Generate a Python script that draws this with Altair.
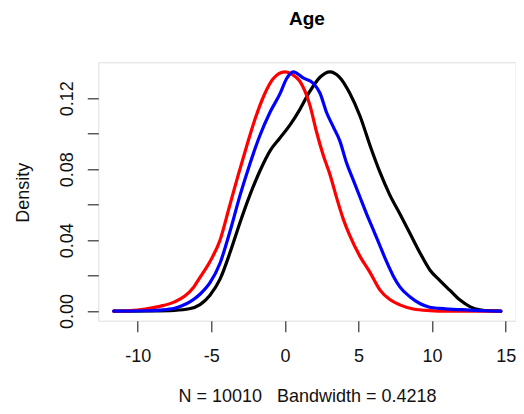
import altair as alt
import pandas as pd

# ---- data ----
black_x = [-11.63, -9.0, -7.5, -6.5, -5.77, -5.09, -4.41, -3.73, -3.05, -2.4, -1.7, -1.0, -0.35,
           0.35, 1.0, 1.7, 2.4, 3.05, 3.7, 4.4, 5.1, 5.8, 6.45, 7.1, 7.8, 8.5, 9.2, 9.85, 10.5,
           11.2, 11.9, 12.6, 13.25, 14.0, 14.67]
black_y = [0.0, 0.0001, 0.0004, 0.0013, 0.0037, 0.009, 0.018, 0.033, 0.05, 0.065, 0.079, 0.0905,
           0.0975, 0.1050, 0.1135, 0.1240, 0.1320, 0.1349, 0.1320, 0.1230, 0.1100, 0.0930,
           0.0785, 0.0660, 0.0550, 0.0438, 0.0325, 0.0232, 0.0175, 0.0118, 0.0062, 0.0024,
           0.0007, 0.0001, 0.0]

red_x = [-11.63, -10.5, -9.5, -8.5, -7.5, -6.8, -6.2, -5.77, -5.09, -4.41, -3.8, -3.2, -2.6,
         -2.0, -1.4, -0.8, 0.0, 0.5, 1.02, 1.7, 2.15, 2.6, 3.06, 3.51, 3.96, 4.41, 5.09, 5.77,
         6.45, 7.13, 7.81, 8.72, 9.84, 11.0, 14.67]
red_y = [0.0, 0.0003, 0.0012, 0.0027, 0.0052, 0.0085, 0.0135, 0.019, 0.028, 0.040, 0.058,
         0.076, 0.093, 0.109, 0.122, 0.131, 0.1349, 0.1335, 0.1295, 0.1160, 0.1010, 0.0880,
         0.0770, 0.0640, 0.0520, 0.0425, 0.0310, 0.0220, 0.0120, 0.0065, 0.0035, 0.0012,
         0.0003, 0.0, 0.0]

blue_x = [-11.63, -9.5, -8.5, -7.5, -7.0, -6.4, -5.77, -5.09, -4.41, -3.73, -3.06, -2.38, -1.7,
          -1.02, -0.34, 0.11, 0.57, 1.24, 1.92, 2.38, 2.83, 3.28, 3.73, 4.19, 4.64, 5.09, 5.54,
          6.0, 6.45, 6.9, 7.35, 7.81, 8.49, 9.17, 9.84, 10.52, 11.2, 12.56, 13.5, 14.67]
blue_y = [0.0, 0.0002, 0.0006, 0.0016, 0.0030, 0.0055, 0.0095, 0.016, 0.027, 0.045, 0.065,
          0.083, 0.099, 0.112, 0.1225, 0.1310, 0.1349, 0.1315, 0.1285, 0.1230, 0.1120, 0.1040,
          0.0960, 0.0835, 0.0740, 0.0645, 0.0550, 0.0460, 0.0370, 0.0280, 0.0200, 0.0137,
          0.0081, 0.0043, 0.0022, 0.0015, 0.0011, 0.0006, 0.0002, 0.0]

x_ticks = [-10, -5, 0, 5, 10, 15]
y_ticks = [0.0, 0.02, 0.04, 0.06, 0.08, 0.10, 0.12]
title_text = "Age"
x_title = "N = 10010\u00a0\u00a0\u00a0Bandwidth = 0.4218"
y_title = "Density"

series = [("black", black_x, black_y, "#000000"),
          ("red", red_x, red_y, "#ff0000"),
          ("blue", blue_x, blue_y, "#0000ff")]

rows = []
for name, xs, ys, _ in series:
    for i, (xv, yv) in enumerate(zip(xs, ys)):
        rows.append({"series": name, "order": i, "age": xv, "density": yv})
df = pd.DataFrame(rows)

FONT = "Liberation Sans"

x_enc = alt.X(
    "age:Q",
    scale=alt.Scale(domain=[-12.68, 15.68], nice=False, zero=False),
    axis=alt.Axis(
        values=x_ticks, grid=False, domain=False, tickSize=11, tickColor="#333333",
        tickWidth=1.2, labelFont=FONT, labelFontSize=18, labelColor="#111111",
        labelPadding=16, labelFlush=False, labelOverlap=False,
        labelExpr="datum.value < 0 ? '-' + format(-datum.value, 'd') : format(datum.value, 'd')",
        title=x_title, titleFont=FONT, titleFontSize=18, titleFontWeight="normal",
        titleColor="#111111", titleBaseline="top", titleY=67,
    ),
)
y_enc = alt.Y(
    "density:Q",
    scale=alt.Scale(domain=[-0.0054, 0.1403], nice=False, zero=False),
    axis=alt.Axis(
        values=y_ticks, grid=False, domain=False, tickSize=11, tickColor="#333333",
        tickWidth=1.2, labelFont=FONT, labelFontSize=18, labelColor="#111111",
        labelAngle=270, labelAlign="center", labelBaseline="alphabetic",
        labelPadding=15, labelFlush=False, labelOverlap=False,
        labelExpr="round(datum.value*100) % 4 == 0 ? format(datum.value, '.2f') : ''",
        title=y_title, titleFont=FONT, titleFontSize=18, titleFontWeight="normal",
        titleColor="#111111", titleAngle=270, titleBaseline="alphabetic",
        titleX=-70, titleY=130,
    ),
)

layers = []
for name, _, _, color in series:
    layers.append(
        alt.Chart(df)
        .transform_filter(alt.datum.series == name)
        .mark_line(color=color, strokeWidth=3.2, strokeCap="round", strokeJoin="round",
                   interpolate="monotone")
        .encode(x=x_enc, y=y_enc, order="order:Q")
    )

chart = (
    alt.layer(*layers)
    .properties(
        width=417.4,
        height=258.4,
        title=alt.TitleParams(title_text, font=FONT, fontSize=19, fontWeight="bold",
                              color="#000000", anchor="middle", offset=33.5),
        autosize=alt.AutoSizeParams(type="none"),
        padding={"left": 90.3, "top": 54.3, "right": 0, "bottom": 85},
    )
    .configure_view(stroke="#444444", strokeWidth=1.5)
    .configure(background="white")
)

chart.save("out.html", embed_options={"renderer": "svg", "actions": False})
